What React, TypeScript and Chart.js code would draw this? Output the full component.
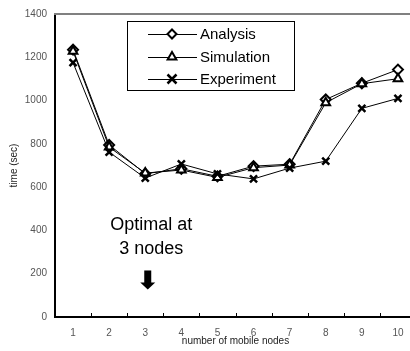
import React, { useEffect, useRef } from "react";
import { Chart, registerables } from "chart.js";

Chart.register(...registerables);

const categories = ["1", "2", "3", "4", "5", "6", "7", "8", "9", "10"];
const analysis = [1235, 795, 662, 685, 650, 697, 706, 1005, 1080, 1143];
const simulation = [1228, 785, 665, 679, 645, 690, 702, 990, 1078, 1101];
const experiment = [1175, 762, 642, 707, 661, 638, 688, 720, 964, 1010];
const seriesNames = ["Analysis", "Simulation", "Experiment"];
const noteLines = ["Optimal at", "3 nodes"];
const noteCategory = 2; // index of "3"

function drawMarker(ctx: CanvasRenderingContext2D, kind: string, x: number, y: number) {
  ctx.save();
  ctx.strokeStyle = "#000";
  ctx.fillStyle = "#fff";
  ctx.lineWidth = 2;
  ctx.beginPath();
  if (kind === "rectRot") {
    const r = 4.5;
    ctx.moveTo(x, y - r);
    ctx.lineTo(x + r, y);
    ctx.lineTo(x, y + r);
    ctx.lineTo(x - r, y);
    ctx.closePath();
    ctx.fill();
    ctx.stroke();
  } else if (kind === "triangle") {
    const r = 5;
    ctx.moveTo(x, y - r);
    ctx.lineTo(x + r * 0.87, y + r * 0.5);
    ctx.lineTo(x - r * 0.87, y + r * 0.5);
    ctx.closePath();
    ctx.fill();
    ctx.stroke();
  } else {
    const r = 4.5;
    ctx.lineWidth = 2.5;
    ctx.moveTo(x - r, y - r);
    ctx.lineTo(x + r, y + r);
    ctx.moveTo(x + r, y - r);
    ctx.lineTo(x - r, y + r);
    ctx.stroke();
  }
  ctx.restore();
}

const decor = {
  id: "decor",
  afterDraw(chart: any) {
    const ctx: CanvasRenderingContext2D = chart.ctx;
    const { left, right, top, bottom } = chart.chartArea;
    const xs = chart.scales.x;
    const ys = chart.scales.y;
    ctx.save();
    // top border
    ctx.strokeStyle = "#808080";
    ctx.lineWidth = 2;
    ctx.beginPath();
    ctx.moveTo(left - 1, top);
    ctx.lineTo(right, top);
    ctx.stroke();
    // inward x ticks between categories
    ctx.strokeStyle = "#000";
    ctx.lineWidth = 1;
    for (let i = 0; i < categories.length - 1; i++) {
      const px = Math.round((xs.getPixelForValue(i) + xs.getPixelForValue(i + 1)) / 2) + 0.5;
      ctx.beginPath();
      ctx.moveTo(px, bottom);
      ctx.lineTo(px, bottom - 4);
      ctx.stroke();
    }
    // legend box
    const bx = 127, by = 21, bw = 167, bh = 69;
    ctx.fillStyle = "#fff";
    ctx.fillRect(bx, by, bw, bh);
    ctx.strokeStyle = "#000";
    ctx.lineWidth = 1;
    ctx.strokeRect(bx + 0.5, by + 0.5, bw, bh);
    const kinds = ["rectRot", "triangle", "crossRot"];
    const rows = [34, 57, 79];
    ctx.font = "15px Arial, 'Liberation Sans', sans-serif";
    ctx.textBaseline = "middle";
    ctx.textAlign = "left";
    seriesNames.forEach((name, i) => {
      const y = rows[i];
      ctx.strokeStyle = "#000";
      ctx.lineWidth = 1;
      ctx.beginPath();
      ctx.moveTo(148, y + 0.5);
      ctx.lineTo(197, y + 0.5);
      ctx.stroke();
      drawMarker(ctx, kinds[i], 172, y);
      ctx.fillStyle = "#000";
      ctx.fillText(name, 200, y + 1);
    });
    // annotation
    const cx = xs.getPixelForValue(noteCategory) + 6;
    ctx.font = "18px Arial, 'Liberation Sans', sans-serif";
    ctx.textAlign = "center";
    ctx.textBaseline = "alphabetic";
    ctx.fillStyle = "#000";
    ctx.fillText(noteLines[0], cx, 230);
    ctx.fillText(noteLines[1], cx, 254);
    // arrow
    const ax = xs.getPixelForValue(noteCategory) + 2.5;
    const ay = ys.getPixelForValue(215);
    ctx.beginPath();
    ctx.rect(ax - 3.5, ay, 7, 13);
    ctx.fill();
    ctx.beginPath();
    ctx.moveTo(ax - 7.5, ay + 12);
    ctx.lineTo(ax + 7.5, ay + 12);
    ctx.lineTo(ax, ay + 19);
    ctx.closePath();
    ctx.fill();
    ctx.restore();
  },
};

export default function App() {
  const ref = useRef<HTMLCanvasElement | null>(null);
  useEffect(() => {
    if (!ref.current) return;
    const mk = (label: string, data: number[], style: string, radius: number, bw: number) => ({
      label,
      data,
      borderColor: "#000",
      backgroundColor: "#fff",
      borderWidth: 1,
      pointStyle: style,
      pointRadius: radius,
      pointBorderWidth: bw,
      pointBorderColor: "#000",
      pointBackgroundColor: "#fff",
      tension: 0,
    });
    const chart = new Chart(ref.current, {
      type: "line",
      data: {
        labels: categories,
        datasets: [
          mk(seriesNames[2], experiment, "crossRot", 5, 2.5),
          mk(seriesNames[1], simulation, "triangle", 5, 2),
          mk(seriesNames[0], analysis, "rectRot", 5, 2),
        ],
      },
      options: {
        animation: false,
        responsive: false,
        devicePixelRatio: 1,
        layout: { padding: { left: 8, top: 12, right: 9, bottom: 4 } },
        plugins: { legend: { display: false }, tooltip: { enabled: false } },
        scales: {
          x: {
            offset: true,
            grid: { display: false, drawTicks: false },
            border: { color: "#000", width: 2 },
            ticks: { color: "#555", font: { family: "Arial", size: 10 }, padding: 10 },
            title: {
              display: true,
              text: "number of mobile nodes",
              color: "#222",
              font: { family: "Arial", size: 10 },
              padding: { top: 0, bottom: 0 },
            },
            afterFit: (s: any) => {
              s.height = 30;
            },
          },
          y: {
            min: 0,
            max: 1400,
            grid: { display: false, drawTicks: false },
            border: { color: "#000", width: 2 },
            ticks: {
              stepSize: 200,
              color: "#555",
              font: { family: "Arial", size: 10 },
              padding: 8,
              callback: (v: any) => String(v),
            },
            title: {
              display: true,
              text: "time (sec)",
              color: "#222",
              font: { family: "Arial", size: 10 },
              padding: { top: 0, bottom: 0 },
            },
            afterFit: (s: any) => {
              s.width = 47;
            },
          },
        },
      },
      plugins: [decor],
    });
    return () => chart.destroy();
  }, []);
  return (
    <div style={{ position: "fixed", left: 0, top: 0, width: 410, height: 351, overflow: "hidden", background: "#fff" }}>
      <canvas ref={ref} width={425} height={351} style={{ display: "block" }} />
    </div>
  );
}
